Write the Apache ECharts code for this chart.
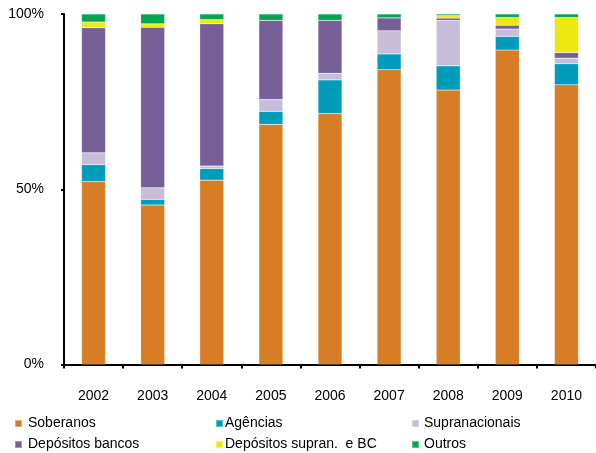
<!DOCTYPE html>
<html>
<head>
<meta charset="utf-8">
<script src="https://cdn.jsdelivr.net/npm/echarts@6/dist/echarts.min.js"></script>
<style>
  html, body { margin: 0; padding: 0; background: #fff; }
  #chart { width: 596px; height: 453px; }
</style>
</head>
<body>
<div id="chart"></div>
<script>
// Composição da carteira por ano (% do total)
const years = ['2002', '2003', '2004', '2005', '2006', '2007', '2008', '2009', '2010'];
const soberanos      = [52.2, 45.5, 52.6, 68.5, 71.6, 84.1, 78.3, 89.7, 79.8];
const agencias       = [4.8, 1.6, 3.3, 3.7, 9.6, 4.5, 6.9, 3.9, 6.0];
const supranacionais = [3.4, 3.3, 0.7, 3.4, 1.9, 6.6, 13.0, 2.1, 1.6];
const depBancos      = [35.7, 45.8, 40.6, 22.6, 15.1, 3.7, 0.65, 1.1, 1.6];
const depSupranBC    = [1.6, 1.0, 1.2, 0, 0, 0, 0.7, 2.2, 10.0];
const outros         = [2.3, 2.8, 1.6, 1.8, 1.8, 1.1, 0.45, 1.0, 1.0];
const yTicks = [0, 50, 100];

const font = '"Liberation Sans", Arial, sans-serif';

const seriesDefs = [
  { name: 'Soberanos', data: soberanos, color: '#D67D26' },
  { name: 'Agências', data: agencias, color: '#009CBB' },
  { name: 'Supranacionais', data: supranacionais, color: '#C8BDD9' },
  { name: 'Depósitos bancos', data: depBancos, color: '#765F97' },
  { name: 'Depósitos supran.  e BC', data: depSupranBC, color: '#EEE811' },
  { name: 'Outros', data: outros, color: '#00A650' }
];

// legend grid: 3 columns x 2 rows
const legendSlots = [
  { name: 'Soberanos', left: 14, top: 416.5, gap: 1 },
  { name: 'Agências', left: 215, top: 416.5, gap: -3 },
  { name: 'Supranacionais', left: 411, top: 416.5, gap: 0 },
  { name: 'Depósitos bancos', left: 14, top: 437.5, gap: 1 },
  { name: 'Depósitos supran.  e BC', left: 215, top: 437.5, gap: -3 },
  { name: 'Outros', left: 411, top: 437.5, gap: 0 }
];

const legends = legendSlots.map(s => ({
  data: [s.name],
  left: s.left,
  top: s.top,
  padding: 0,
  itemWidth: 7,
  itemHeight: 7,
  itemGap: 0,
  icon: 'rect',
  textStyle: { fontFamily: font, fontSize: 14, color: '#000', padding: [0, 0, 0, s.gap] }
}));

const chart = echarts.init(document.getElementById('chart'), null, { renderer: 'canvas' });
chart.setOption({
  animation: false,
  backgroundColor: '#fff',
  grid: { left: 64, top: 14, width: 535, height: 350.5 },
  legend: legends,
  xAxis: {
    type: 'category',
    data: years,
    axisLine: { lineStyle: { color: '#000', width: 2 } },
    axisTick: { show: true, length: 4, lineStyle: { color: '#000', width: 2 } },
    axisLabel: { margin: 25, fontFamily: font, fontSize: 14, color: '#000' }
  },
  yAxis: {
    type: 'value',
    min: 0,
    max: 100,
    interval: 50,
    axisLine: { show: true, lineStyle: { color: '#000', width: 2 } },
    axisTick: { show: true, length: 3, lineStyle: { color: '#000', width: 2 } },
    splitLine: { show: false },
    axisLabel: {
      margin: 20,
      fontFamily: font,
      fontSize: 14,
      color: '#000',
      formatter: v => (yTicks.indexOf(v) >= 0 ? v + '%' : '')
    }
  },
  series: seriesDefs.map(s => ({
    name: s.name,
    type: 'bar',
    stack: 'total',
    barWidth: 24,
    data: s.data,
    itemStyle: { color: s.color, borderColor: 'rgba(255,255,255,0.35)', borderWidth: 0.5 }
  }))
});
</script>
</body>
</html>
